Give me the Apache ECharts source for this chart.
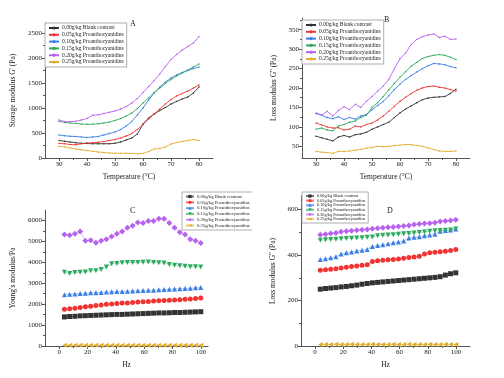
<!DOCTYPE html>
<html>
<head>
<meta charset="utf-8">
<script src="https://cdn.jsdelivr.net/npm/echarts@6/dist/echarts.min.js"></script>
<style>
  html, body { margin: 0; padding: 0; background: #fff; }
  .panel { position: absolute; width: 252px; height: 189px; }
</style>
</head>
<body>
<div id="A" class="panel" style="left:0;top:0"></div>
<div id="B" class="panel" style="left:252px;top:0"></div>
<div id="C" class="panel" style="left:0;top:189px"></div>
<div id="D" class="panel" style="left:252px;top:189px"></div>
<script>
const names = [
  "0.00g/kg Blank contrast",
  "0.05g/kg Proanthocyanidins",
  "0.10g/kg Proanthocyanidins",
  "0.15g/kg Proanthocyanidins",
  "0.20g/kg Proanthocyanidins",
  "0.25g/kg Proanthocyanidins"
];
const colors = ["#333333", "#f03434", "#3a7ee6", "#2eaa60", "#b862f0", "#e2ae30"];

// temperature sweep (A, B)
const temps = [30, 32, 34, 36, 38, 40, 42, 44, 46, 48, 50, 52, 54, 56, 58, 60, 62, 64, 66, 68, 70, 72, 74, 76, 78, 80];

// A: storage modulus G' (Pa)
const storage000 = [350, 335, 320, 305, 295, 290, 285, 285, 285, 285, 295, 320, 360, 400, 480, 680, 800, 880, 950, 1010, 1080, 1130, 1180, 1220, 1300, 1420];
const storage005 = [290, 285, 270, 265, 285, 300, 305, 315, 330, 350, 370, 400, 440, 490, 570, 670, 780, 880, 980, 1080, 1170, 1240, 1290, 1340, 1400, 1460];
const storage010 = [460, 445, 435, 430, 420, 410, 420, 430, 460, 490, 520, 570, 640, 730, 860, 1000, 1160, 1300, 1420, 1520, 1600, 1660, 1710, 1750, 1790, 1820];
const storage015 = [730, 715, 700, 690, 680, 675, 675, 685, 700, 720, 750, 790, 840, 900, 990, 1100, 1200, 1310, 1400, 1490, 1570, 1640, 1700, 1760, 1820, 1880];
const storage020 = [760, 730, 725, 735, 760, 790, 855, 865, 890, 915, 940, 980, 1030, 1100, 1190, 1310, 1430, 1550, 1680, 1830, 1970, 2070, 2160, 2230, 2300, 2430];
const storage025 = [230, 225, 200, 180, 165, 150, 135, 120, 110, 100, 95, 95, 95, 90, 85, 90, 130, 180, 190, 220, 280, 310, 330, 350, 370, 350];

// B: loss modulus G'' (Pa) vs temperature
const lossT000 = [76, 72, 68, 64, 74, 78, 74, 80, 82, 86, 94, 100, 106, 112, 124, 136, 146, 154, 162, 170, 174, 176, 177, 178, 186, 197];
const lossT005 = [110, 105, 100, 97, 98, 92, 94, 102, 100, 106, 110, 118, 128, 140, 153, 166, 176, 186, 194, 200, 204, 205, 202, 200, 196, 192];
const lossT010 = [136, 130, 124, 121, 126, 119, 124, 120, 128, 132, 144, 155, 165, 180, 196, 210, 222, 232, 241, 250, 257, 263, 262, 260, 255, 252];
const lossT015 = [94, 97, 92, 90, 102, 106, 112, 115, 124, 130, 150, 162, 178, 195, 212, 228, 242, 256, 266, 276, 281, 284, 286, 284, 279, 273];
const lossT020 = [134, 130, 140, 128, 142, 152, 144, 158, 150, 166, 178, 192, 205, 222, 250, 275, 290, 312, 325, 332, 336, 339, 330, 333, 325, 326];
const lossT025 = [37, 35, 34, 32, 37, 37, 38, 40, 42, 45, 47, 50, 49, 50, 52, 53, 55, 54, 52, 50, 46, 42, 38, 37, 37, 38];

// frequency sweep (C, D)
const freqs = [3.7, 7.4, 11.1, 14.8, 18.5, 22.2, 25.9, 29.6, 33.3, 37.0, 40.7, 44.4, 48.1, 51.8, 55.5, 59.2, 62.9, 66.6, 70.3, 74.0, 77.7, 81.4, 85.1, 88.8, 92.5, 96.2, 99.9];

// C: Young's modulus (Pa)
const young000 = [1390, 1410, 1420, 1440, 1450, 1460, 1470, 1480, 1490, 1500, 1510, 1510, 1520, 1530, 1540, 1550, 1560, 1570, 1580, 1580, 1590, 1600, 1600, 1610, 1620, 1630, 1640];
const young005 = [1760, 1780, 1810, 1840, 1870, 1900, 1930, 1960, 1990, 2010, 2030, 2050, 2060, 2080, 2100, 2120, 2130, 2150, 2160, 2180, 2190, 2200, 2210, 2230, 2250, 2270, 2290];
const young010 = [2450, 2470, 2490, 2510, 2520, 2540, 2550, 2560, 2580, 2590, 2600, 2610, 2620, 2630, 2640, 2650, 2660, 2670, 2690, 2700, 2710, 2730, 2740, 2750, 2760, 2780, 2790];
const young015 = [3530, 3460, 3510, 3530, 3540, 3600, 3600, 3660, 3780, 3930, 3940, 3980, 3990, 3990, 3990, 4000, 4010, 3990, 3980, 3970, 3900, 3860, 3840, 3810, 3790, 3790, 3770];
const young020 = [5330, 5290, 5370, 5470, 5030, 5060, 4940, 5030, 5100, 5230, 5360, 5470, 5650, 5750, 5900, 5880, 5980, 5980, 6080, 6080, 5880, 5650, 5440, 5330, 5100, 5030, 4920];
const young025 = [30, 32, 30, 31, 30, 32, 31, 30, 31, 32, 30, 31, 30, 32, 31, 30, 31, 30, 32, 31, 30, 31, 32, 30, 31, 30, 31];

// D: loss modulus G'' (Pa) vs frequency
const lossF000 = [250, 253, 255, 257, 260, 262, 265, 268, 272, 275, 278, 280, 282, 284, 286, 288, 290, 292, 294, 296, 298, 300, 302, 305, 312, 318, 322];
const lossF005 = [333, 336, 338, 340, 343, 347, 350, 352, 355, 358, 372, 375, 377, 379, 381, 383, 386, 389, 392, 395, 405, 410, 413, 415, 417, 420, 425];
const lossF010 = [381, 384, 388, 393, 405, 410, 414, 418, 421, 425, 438, 442, 446, 450, 454, 458, 462, 475, 478, 481, 485, 488, 492, 505, 508, 510, 515];
const lossF015 = [465, 467, 469, 470, 472, 473, 474, 475, 476, 478, 480, 485, 487, 488, 490, 492, 494, 495, 497, 499, 502, 505, 507, 508, 509, 510, 515];
const lossF020 = [490, 492, 495, 497, 503, 505, 507, 509, 511, 513, 516, 518, 520, 522, 524, 526, 528, 530, 535, 537, 539, 540, 542, 548, 550, 552, 555];
const lossF025 = [7, 7, 7, 8, 7, 7, 8, 7, 7, 7, 8, 7, 7, 7, 8, 7, 7, 8, 7, 7, 7, 8, 7, 7, 8, 7, 7];

// tick labels
const tempTicks = [30, 40, 50, 60, 70, 80];
const tempMinor = [35, 45, 55, 65, 75];
const hzTicks = [0, 20, 40, 60, 80, 100];
const hzMinor = [10, 30, 50, 70, 90];
const storageTicks = [0, 500, 1000, 1500, 2000, 2500];
const storageMinor = [250, 750, 1250, 1750, 2250];
const lossTTicks = [50, 100, 150, 200, 250, 300, 350];
const lossTMinor = [75, 125, 175, 225, 275, 325, 375];
const youngTicks = [0, 1000, 2000, 3000, 4000, 5000, 6000];
const youngMinor = [500, 1500, 2500, 3500, 4500, 5500];
const lossFTicks = [0, 200, 400, 600];
const lossFMinor = [100, 300, 500];

const FONT = "'Liberation Serif', 'Times New Roman', serif";
const AXIS_COLOR = "#555";
const symbolsF = ["rect", "circle", "triangle", "triangle", "diamond", "triangle"];
const rotatesF = [0, 0, 0, 180, 0, 90];

function axisPair(dir, min, max, majors, minors, name, nameGap) {
  const pos = dir === "x" ? "bottom" : "left";
  const main = {
    type: "value", min: min, max: max, position: pos,
    name: name, nameLocation: "middle", nameGap: nameGap,
    nameTextStyle: { fontFamily: FONT, fontSize: 7.5, color: "#222" },
    axisLine: { show: true, onZero: false, lineStyle: { color: AXIS_COLOR, width: 1 } },
    axisTick: { show: true, length: 3, customValues: majors, lineStyle: { color: AXIS_COLOR } },
    axisLabel: { customValues: majors, formatter: (v) => String(v), fontFamily: FONT, fontSize: 7, color: "#222", margin: 3 },
    splitLine: { show: false }
  };
  const minor = {
    type: "value", min: min, max: max, position: pos,
    axisLine: { show: false, onZero: false },
    axisTick: { show: true, length: 2, customValues: minors, lineStyle: { color: AXIS_COLOR } },
    axisLabel: { show: false, customValues: minors },
    splitLine: { show: false }
  };
  return [main, minor];
}

function legendCfg(pos, fontSize, itemGap, itemWidth) {
  return Object.assign({
    orient: "vertical",
    itemWidth: itemWidth, itemHeight: 4, itemGap: itemGap,
    padding: [2, 3, 2, 3],
    borderColor: "#999", borderWidth: 0.8, backgroundColor: "#fff",
    textStyle: { fontFamily: FONT, fontSize: fontSize, color: "#222", padding: [0, 0, 0, -2] },
    data: names
  }, pos);
}

function tempSeries(vals) {
  return vals.map((ys, i) => ({
    name: names[i], type: "line",
    data: temps.map((t, k) => [t, ys[k]]),
    symbol: "circle", symbolSize: 1.5, showSymbol: true,
    lineStyle: { width: 0.9, color: colors[i] },
    itemStyle: { color: colors[i] }
  }));
}

function freqSeries(vals) {
  return vals.map((ys, i) => ({
    name: names[i], type: "line",
    data: freqs.map((f, k) => [f, ys[k]]),
    symbol: symbolsF[i], symbolRotate: rotatesF[i],
    symbolSize: i === 4 ? 6 : 5, showSymbol: true,
    lineStyle: { width: 0.6, color: colors[i], opacity: 0.7 },
    itemStyle: { color: colors[i] }
  }));
}

function draw(id, letter, titlePos, grid, xPair, yPair, legend, series) {
  const chart = echarts.init(document.getElementById(id));
  chart.setOption({
    animation: false,
    title: Object.assign({ text: letter, textStyle: { fontFamily: FONT, fontSize: 8, fontWeight: "normal", color: "#222" } }, titlePos),
    grid: grid,
    legend: legend,
    xAxis: xPair,
    yAxis: yPair,
    series: series
  });
}

draw("A", "A", { left: 125, top: 15 },
  { left: 45, right: 39, top: 23, bottom: 31 },
  axisPair("x", 25, 85, tempTicks, tempMinor, "Temperature (°C)", 15),
  axisPair("y", 0, 2700, storageTicks, storageMinor, "Storage modulus G' (Pa)", 20),
  legendCfg({ left: 45, top: 23 }, 5.5, 0.8, 10),
  tempSeries([storage000, storage005, storage010, storage015, storage020, storage025]));

draw("B", "B", { left: 127, top: 11 },
  { left: 50, right: 34, top: 18, bottom: 31 },
  axisPair("x", 25, 85, tempTicks, tempMinor, "Temperature (°C)", 13),
  axisPair("y", 20, 380, lossTTicks, lossTMinor, "Loss modulus G'' (Pa)", 17),
  legendCfg({ left: 50, top: 20 }, 5.5, 0.8, 10),
  tempSeries([lossT000, lossT005, lossT010, lossT015, lossT020, lossT025]));

draw("C", "C", { left: 125, top: 13 },
  { left: 45, right: 44, top: 21, bottom: 32 },
  axisPair("x", -10, 105, hzTicks, hzMinor, "Hz", 14),
  axisPair("y", 0, 6500, youngTicks, youngMinor, "Young's modulus/Pa", 20),
  legendCfg({ left: 182, top: 3 }, 4.7, 0.8, 8),
  freqSeries([young000, young005, young010, young015, young020, young025]));

draw("D", "D", { left: 130, top: 13 },
  { left: 49, right: 34, top: 7, bottom: 32 },
  axisPair("x", -10, 110, hzTicks, hzMinor, "Hz", 13),
  axisPair("y", 0, 660, lossFTicks, lossFMinor, "Loss modulus G'' (Pa)", 14),
  legendCfg({ left: 50, top: 3 }, 4.3, 0.6, 8),
  freqSeries([lossF000, lossF005, lossF010, lossF015, lossF020, lossF025]));
</script>
</body>
</html>
